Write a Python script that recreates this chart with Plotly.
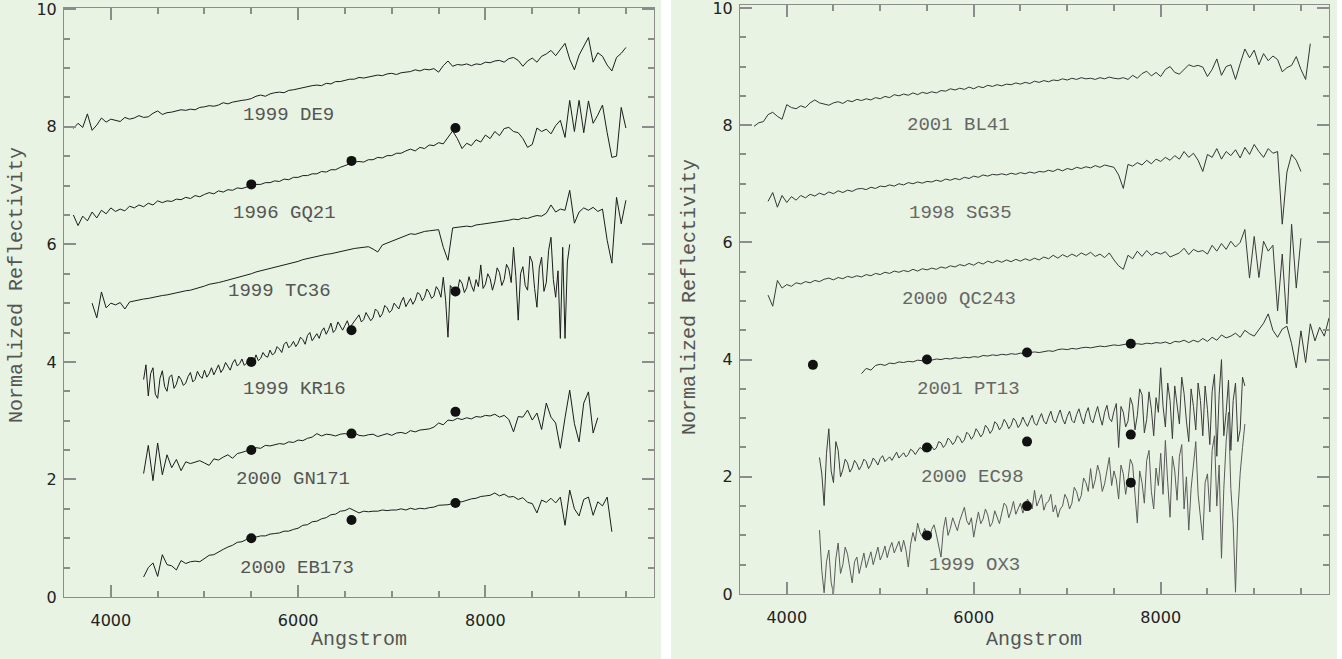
import numpy as np
import plotly.graph_objects as go

# Each spectrum is sampled on an even wavelength grid from *_START to *_END (Angstrom).

# ---------------- left panel spectra ----------------
DE9_START, DE9_END = 3600, 9500
DE9 = [7.97, 8.06, 7.99, 8.22, 7.94, 8.03, 8.15, 8.08, 8.13, 8.11, 8.09, 8.16, 8.13, 8.15, 8.19, 8.16,
       8.17, 8.23, 8.27, 8.21, 8.24, 8.25, 8.27, 8.29, 8.28, 8.30, 8.29, 8.33, 8.34, 8.36, 8.35, 8.37,
       8.41, 8.39, 8.42, 8.44, 8.45, 8.46, 8.48, 8.52, 8.54, 8.52, 8.56, 8.58, 8.59, 8.58, 8.62, 8.63,
       8.65, 8.66, 8.69, 8.70, 8.71, 8.70, 8.74, 8.73, 8.77, 8.77, 8.79, 8.81, 8.81, 8.84, 8.83, 8.85,
       8.86, 8.88, 8.87, 8.90, 8.91, 8.89, 8.92, 8.93, 8.94, 8.97, 8.95, 8.98, 8.97, 8.99, 8.93, 9.04,
       9.12, 9.03, 9.06, 9.05, 9.07, 9.04, 9.07, 9.06, 9.10, 9.09, 9.12, 9.13, 9.10, 9.16, 9.18, 9.13,
       9.03, 9.12, 9.17, 9.10, 9.20, 9.24, 9.30, 9.21, 9.32, 9.42, 9.15, 8.97, 9.22, 9.38, 9.52, 9.10,
       9.26, 9.20, 9.05, 8.95, 9.18, 9.25, 9.35]

GQ21_START, GQ21_END = 3600, 9500
GQ21 = [6.50, 6.32, 6.48, 6.40, 6.55, 6.45, 6.58, 6.52, 6.62, 6.56, 6.60, 6.57, 6.65, 6.62, 6.67, 6.64,
        6.70, 6.67, 6.74, 6.71, 6.74, 6.73, 6.77, 6.76, 6.80, 6.78, 6.83, 6.81, 6.85, 6.88, 6.86, 6.91,
        6.89, 6.93, 6.92, 6.96, 6.95, 6.98, 7.00, 7.02, 7.02, 7.05, 7.05, 7.08, 7.07, 7.11, 7.10, 7.14,
        7.14, 7.17, 7.17, 7.20, 7.20, 7.24, 7.23, 7.27, 7.27, 7.31, 7.34, 7.37, 7.40, 7.41, 7.40, 7.44,
        7.44, 7.48, 7.47, 7.51, 7.51, 7.55, 7.55, 7.59, 7.62, 7.59, 7.65, 7.63, 7.69, 7.68, 7.73, 7.71,
        7.82, 7.93, 7.80, 7.63, 7.72, 7.68, 7.78, 7.74, 7.86, 7.80, 7.92, 7.85, 7.97, 7.99, 7.92, 7.90,
        7.80, 7.65, 7.70, 7.98, 7.92, 7.96, 7.88, 8.02, 8.11, 7.82, 8.45, 7.92, 8.45, 7.90, 8.44, 8.06,
        8.20, 8.37, 7.90, 7.48, 7.50, 8.33, 7.98]

TC36_START, TC36_END = 3800, 9500
TC36 = [5.00, 4.75, 5.19, 4.92, 5.00, 4.97, 5.01, 4.90, 5.02, 5.04, 5.05, 5.07, 5.08, 5.10, 5.12, 5.13,
        5.14, 5.16, 5.18, 5.19, 5.21, 5.22, 5.24, 5.26, 5.29, 5.32, 5.33, 5.35, 5.37, 5.39, 5.41, 5.43,
        5.45, 5.47, 5.50, 5.53, 5.55, 5.56, 5.59, 5.61, 5.63, 5.65, 5.67, 5.69, 5.71, 5.74, 5.76, 5.77,
        5.79, 5.81, 5.83, 5.84, 5.86, 5.88, 5.90, 5.91, 5.93, 5.94, 5.95, 5.96, 5.92, 5.87, 5.99, 6.02,
        6.05, 6.08, 6.12, 6.15, 6.18, 6.17, 6.20, 6.22, 6.23, 6.24, 6.25, 5.95, 5.73, 6.28, 6.29, 6.30,
        6.31, 6.30, 6.33, 6.34, 6.35, 6.36, 6.37, 6.38, 6.39, 6.41, 6.43, 6.42, 6.45, 6.44, 6.47, 6.49,
        6.48, 6.53, 6.67, 6.55, 6.60, 6.58, 6.92, 6.36, 6.55, 6.62, 6.58, 6.63, 6.56, 6.60, 6.07, 5.68,
        6.80, 6.35, 6.75]

KR16_START, KR16_END = 4350, 8900
KR16 = [3.70, 3.95, 3.42, 3.80, 3.90, 3.45, 3.38, 3.72, 3.85, 3.58, 3.50, 3.74, 3.78, 3.55, 3.62, 3.76,
        3.70, 3.60, 3.64, 3.75, 3.82, 3.66, 3.70, 3.84, 3.76, 3.72, 3.86, 3.74, 3.80, 3.90, 3.78, 3.86,
        3.95, 3.82, 3.88, 3.99, 3.92, 3.86, 3.98, 4.04, 3.93, 3.97, 4.05, 3.94, 3.98, 4.08, 4.02, 4.00,
        4.12, 4.02, 4.06, 4.16, 4.10, 4.08, 4.20, 4.12, 4.15, 4.26, 4.22, 4.16, 4.30, 4.34, 4.24, 4.28,
        4.35, 4.26, 4.32, 4.42, 4.38, 4.30, 4.45, 4.50, 4.36, 4.42, 4.48, 4.40, 4.52, 4.58, 4.47, 4.55,
        4.66, 4.50, 4.55, 4.68, 4.60, 4.54, 4.62, 4.70, 4.58, 4.64, 4.70, 4.76, 4.80, 4.68, 4.72, 4.84,
        4.78, 4.70, 4.75, 4.90, 4.86, 4.76, 4.82, 4.96, 4.92, 4.84, 4.88, 5.00, 4.95, 4.90, 5.02, 5.10,
        4.94, 5.00, 5.08, 4.98, 5.05, 5.18, 5.15, 5.04, 5.10, 5.24, 5.18, 5.08, 5.12, 5.28, 5.22, 5.10,
        5.44, 5.05, 4.42, 5.30, 5.25, 5.12, 5.20, 5.40, 5.34, 5.18, 5.26, 5.45, 5.30, 5.20, 5.40, 5.28,
        5.65, 5.25, 5.32, 5.50, 5.42, 5.22, 5.36, 5.60, 5.52, 5.30, 5.40, 5.66, 5.58, 5.35, 5.95, 5.45,
        4.71, 5.50, 5.62, 5.30, 5.22, 5.80, 5.70, 5.25, 4.93, 5.60, 5.78, 5.20, 5.35, 5.90, 6.12, 5.40,
        5.10, 5.55, 4.40, 5.95, 4.40, 5.70, 6.00]

GN171_START, GN171_END = 4350, 9200
GN171 = [2.10, 2.58, 1.98, 2.62, 2.08, 2.42, 2.20, 2.34, 2.15, 2.30, 2.27, 2.29, 2.32, 2.28, 2.24, 2.35,
         2.33, 2.38, 2.42, 2.36, 2.44, 2.46, 2.49, 2.52, 2.54, 2.53, 2.58, 2.57, 2.59, 2.61, 2.60, 2.64,
         2.63, 2.67, 2.66, 2.70, 2.72, 2.78, 2.74, 2.77, 2.76, 2.74, 2.77, 2.78, 2.76, 2.79, 2.75, 2.74,
         2.76, 2.77, 2.73, 2.76, 2.78, 2.75, 2.79, 2.80, 2.78, 2.83, 2.81, 2.84, 2.85, 2.86, 2.89, 2.96,
         2.93, 3.01, 3.00, 3.04, 3.02, 3.05, 3.03, 3.07, 3.06, 3.09, 3.08, 3.11, 3.06, 3.09, 3.02, 2.81,
         3.07, 3.06, 3.18, 3.01, 3.13, 2.85, 3.30, 3.06, 2.96, 2.53, 3.05, 3.52, 2.95, 2.64, 3.30, 3.49,
         2.79, 3.05]

EB173_START, EB173_END = 4350, 9350
EB173 = [0.34, 0.50, 0.58, 0.35, 0.72, 0.55, 0.53, 0.46, 0.62, 0.57, 0.60, 0.61, 0.60, 0.66, 0.71, 0.72,
         0.77, 0.81, 0.85, 0.88, 0.93, 0.94, 0.98, 1.00, 1.01, 1.04, 1.04, 1.07, 1.08, 1.09, 1.12, 1.12,
         1.15, 1.17, 1.22, 1.23, 1.28, 1.29, 1.33, 1.35, 1.40, 1.41, 1.46, 1.47, 1.51, 1.47, 1.43, 1.46,
         1.45, 1.46, 1.46, 1.48, 1.47, 1.48, 1.48, 1.50, 1.48, 1.51, 1.49, 1.51, 1.50, 1.52, 1.53, 1.56,
         1.56, 1.57, 1.59, 1.62, 1.62, 1.65, 1.67, 1.68, 1.71, 1.72, 1.73, 1.77, 1.72, 1.75, 1.70, 1.71,
         1.66, 1.69, 1.61, 1.59, 1.43, 1.65, 1.61, 1.68, 1.60, 1.70, 1.22, 1.82, 1.50, 1.38, 1.66, 1.70,
         1.39, 1.62, 1.55, 1.70, 1.11]

# ---------------- right panel spectra ----------------
BL41_START, BL41_END = 3650, 9600
BL41 = [7.98, 8.04, 8.06, 8.18, 8.22, 8.15, 8.10, 8.35, 8.30, 8.28, 8.33, 8.30, 8.38, 8.43, 8.38, 8.36,
        8.34, 8.38, 8.40, 8.37, 8.42, 8.40, 8.44, 8.42, 8.45, 8.43, 8.47, 8.45, 8.49, 8.47, 8.52, 8.50,
        8.53, 8.51, 8.55, 8.52, 8.56, 8.54, 8.57, 8.55, 8.59, 8.58, 8.62, 8.60, 8.63, 8.61, 8.65, 8.62,
        8.66, 8.64, 8.68, 8.66, 8.69, 8.67, 8.70, 8.69, 8.72, 8.70, 8.73, 8.71, 8.75, 8.73, 8.76, 8.74,
        8.77, 8.76, 8.79, 8.77, 8.80, 8.78, 8.81, 8.79, 8.80, 8.78, 8.81, 8.79, 8.82, 8.80, 8.79, 8.81,
        8.78, 8.85, 8.80, 8.88, 8.92, 8.84, 8.90, 8.83, 8.95, 9.00, 8.90, 8.87, 8.95, 9.03, 9.00, 9.02,
        8.99, 8.83, 8.95, 9.13, 8.85, 9.00, 9.03, 8.78, 9.05, 9.30, 9.15, 9.28, 9.03, 9.22, 9.10, 9.18,
        9.12, 8.91, 8.98, 9.02, 9.17, 8.95, 8.78, 9.39]

SG35_START, SG35_END = 3800, 9500
SG35 = [6.70, 6.85, 6.60, 6.80, 6.68, 6.78, 6.72, 6.80, 6.76, 6.82, 6.79, 6.84, 6.81, 6.86, 6.83, 6.88,
        6.85, 6.89, 6.87, 6.91, 6.92, 6.90, 6.94, 6.92, 6.96, 6.95, 6.98, 6.96, 7.00, 6.98, 7.02, 7.00,
        7.03, 7.01, 7.04, 7.03, 7.06, 7.04, 7.08, 7.06, 7.09, 7.07, 7.11, 7.09, 7.13, 7.11, 7.15, 7.13,
        7.16, 7.15, 7.17, 7.15, 7.18, 7.16, 7.19, 7.17, 7.20, 7.18, 7.21, 7.20, 7.23, 7.21, 7.25, 7.22,
        7.26, 7.24, 7.28, 7.26, 7.29, 7.27, 7.31, 7.28, 7.32, 7.30, 7.28, 7.15, 6.92, 7.33, 7.30, 7.36,
        7.32, 7.40, 7.34, 7.42, 7.38, 7.45, 7.40, 7.48, 7.42, 7.55, 7.45, 7.52, 7.40, 7.21, 7.50, 7.45,
        7.60, 7.42, 7.55, 7.48, 7.58, 7.44, 7.62, 7.50, 7.67, 7.55, 7.45, 7.60, 7.52, 7.55, 6.31, 7.20,
        7.50, 7.40, 7.21]

QC243_START, QC243_END = 3800, 9500
QC243 = [5.10, 4.91, 5.35, 5.22, 5.28, 5.25, 5.31, 5.29, 5.33, 5.31, 5.35, 5.33, 5.37, 5.39, 5.36, 5.40,
         5.38, 5.42, 5.40, 5.43, 5.41, 5.45, 5.43, 5.47, 5.45, 5.49, 5.47, 5.51, 5.49, 5.52, 5.50, 5.54,
         5.51, 5.55, 5.53, 5.56, 5.54, 5.58, 5.56, 5.60, 5.58, 5.62, 5.60, 5.64, 5.61, 5.66, 5.63, 5.68,
         5.65, 5.69, 5.66, 5.70, 5.67, 5.71, 5.68, 5.72, 5.69, 5.73, 5.70, 5.75, 5.72, 5.78, 5.73, 5.79,
         5.75, 5.80, 5.76, 5.82, 5.78, 5.83, 5.76, 5.80, 5.74, 5.82, 5.70, 5.60, 5.54, 5.78, 5.72, 5.85,
         5.76, 5.86, 5.78, 5.83, 5.80, 5.84, 5.75, 5.79, 5.82, 5.90, 5.79, 5.88, 5.84, 5.86, 5.80, 5.95,
         5.85, 5.98, 5.88, 6.02, 5.92, 6.00, 6.22, 5.39, 6.10, 5.40, 6.02, 5.85, 5.95, 4.83, 5.80, 4.61,
         6.31, 5.22, 6.07]

PT13_START, PT13_END = 4800, 9800
PT13 = [3.76, 3.85, 3.82, 3.90, 3.92, 3.90, 3.94, 3.93, 3.96, 3.95, 3.97, 3.96, 3.99, 3.98, 4.00, 3.99,
        4.01, 4.00, 4.02, 4.01, 4.03, 4.02, 4.04, 4.03, 4.05, 4.04, 4.07, 4.06, 4.08, 4.07, 4.09, 4.08,
        4.10, 4.09, 4.11, 4.10, 4.12, 4.13, 4.12, 4.14, 4.15, 4.14, 4.17, 4.18, 4.17, 4.19, 4.18, 4.20,
        4.21, 4.20, 4.22, 4.23, 4.22, 4.24, 4.25, 4.24, 4.26, 4.27, 4.26, 4.27, 4.26, 4.28, 4.27, 4.29,
        4.28, 4.30, 4.27, 4.31, 4.30, 4.33, 4.29, 4.33, 4.30, 4.36, 4.31, 4.38, 4.33, 4.42, 4.37, 4.40,
        4.45, 4.38, 4.50, 4.44, 4.40, 4.52, 4.62, 4.78, 4.50, 4.38, 4.52, 4.57, 4.27, 3.86, 4.49, 3.95,
        4.61, 4.32, 4.55, 4.40, 4.71]

EC98_START, EC98_END = 4350, 8900
EC98 = [2.33, 2.05, 1.51, 2.40, 2.82, 2.10, 1.90, 2.60, 2.45, 2.00, 2.12, 2.30, 2.24, 2.08, 2.15, 2.28,
        2.22, 2.12, 2.19, 2.30, 2.26, 2.14, 2.21, 2.32, 2.27, 2.20, 2.31, 2.36, 2.26, 2.30, 2.34, 2.28,
        2.36, 2.42, 2.32, 2.36, 2.41, 2.34, 2.38, 2.47, 2.44, 2.38, 2.43, 2.50, 2.47, 2.42, 2.50, 2.56,
        2.52, 2.46, 2.49, 2.60, 2.58, 2.50, 2.55, 2.66, 2.62, 2.55, 2.60, 2.70, 2.66, 2.58, 2.63, 2.76,
        2.72, 2.64, 2.70, 2.82, 2.76, 2.68, 2.74, 2.88, 2.83, 2.74, 2.80, 2.94, 2.90, 2.80, 2.86, 2.98,
        2.92, 2.82, 2.88, 3.00, 2.95, 2.84, 2.90, 3.02, 2.93, 2.86, 2.96, 3.05, 2.91, 2.88, 2.99, 3.08,
        2.95, 2.90, 3.02, 3.12, 2.97, 2.92, 3.04, 3.14, 2.99, 2.90, 3.03, 3.12, 2.96, 2.92, 3.06, 3.16,
        3.01, 2.90, 3.08, 3.18, 2.98, 2.92, 3.07, 3.20, 3.02, 2.88, 3.10, 3.22, 3.00, 2.94, 3.12, 3.25,
        2.50, 3.20, 3.10, 2.85, 2.95, 3.35, 3.22, 2.80, 3.05, 3.50, 3.40, 2.75, 2.98, 3.45, 3.15, 2.70,
        3.35, 3.10, 3.86, 3.20, 2.85, 3.60, 3.30, 2.65, 3.55, 3.25, 2.90, 3.70, 3.42, 2.95, 2.60, 3.50,
        3.20, 2.80, 3.60, 3.30, 2.70, 3.55, 3.15, 2.55, 3.45, 3.75, 2.35, 3.40, 4.00, 2.70, 3.10, 3.65,
        2.45, 3.30, 3.60, 2.60, 2.80, 3.70, 3.55]

OX3_START, OX3_END = 4350, 8900
OX3 = [1.09, 0.40, 0.02, 0.55, 0.75, 0.20, 0.00, 0.60, 0.87, 0.35, 0.50, 0.80, 0.68, 0.40, 0.19, 0.55,
       0.63, 0.35, 0.52, 0.70, 0.45, 0.60, 0.72, 0.50, 0.66, 0.80, 0.58, 0.68, 0.82, 0.62, 0.78, 0.88,
       0.70, 0.80, 0.90, 0.72, 0.92, 0.75, 0.46, 0.85, 1.05, 0.90, 1.21, 1.05, 0.98, 1.12, 1.00, 0.92,
       1.10, 1.18, 1.02, 0.85, 0.63, 1.10, 1.31, 1.00, 1.12, 1.30, 1.20, 1.08, 1.25, 1.38, 1.48, 1.25,
       1.18, 1.30, 0.97, 1.20, 1.40, 1.20, 1.28, 1.45, 1.35, 1.15, 1.22, 1.42, 1.30, 1.20, 1.38, 1.55,
       1.50, 1.30, 1.42, 1.58, 1.36, 1.45, 1.55, 1.38, 1.48, 1.62, 1.52, 1.45, 1.77, 1.50, 1.60, 1.70,
       1.43, 1.55, 1.58, 1.70, 1.40, 1.52, 1.31, 1.45, 1.50, 1.70, 1.62, 1.45, 1.55, 1.82, 1.75, 1.58,
       1.68, 1.98, 1.90, 1.75, 2.14, 1.80, 1.95, 2.20, 2.05, 1.75, 1.88, 2.10, 2.33, 1.85, 2.10, 1.95,
       1.62, 2.20, 2.05, 1.70, 1.95, 2.30, 2.20, 1.70, 1.21, 2.10, 1.90, 1.55, 2.28, 2.45, 1.75, 1.45,
       2.15, 1.85, 2.40, 1.70, 2.62, 1.90, 1.31, 2.35, 2.10, 1.60, 2.35, 2.55, 1.45, 2.00, 1.09, 1.80,
       2.20, 2.60, 1.70, 1.25, 0.92, 1.90, 2.05, 1.40, 2.45, 2.70, 1.50, 2.20, 0.61, 1.80, 2.60, 3.10,
       1.80, 1.20, 0.03, 1.40, 2.06, 2.50, 2.90]

# ---------------- broadband photometry (filled circles) ----------------
PHOT_WL = [5500, 6570, 7680]
GQ21_PHOT = [7.02, 7.42, 7.98]
KR16_PHOT = [4.00, 4.54, 5.20]
GN171_PHOT = [2.50, 2.78, 3.15]
EB173_PHOT = [1.00, 1.31, 1.60]
PT13_PHOT_WL = [4280, 5500, 6570, 7680]
PT13_PHOT = [3.91, 4.00, 4.12, 4.27]
EC98_PHOT = [2.50, 2.60, 2.72]
OX3_PHOT = [1.00, 1.50, 1.90]

# ---------------- object names and where they are written ----------------
LEFT_NAMES = ["1999 DE9", "1996 GQ21", "1999 TC36", "1999 KR16", "2000 GN171", "2000 EB173"]
LEFT_NAME_X = [5900, 5850, 5800, 5960, 5940, 5990]
LEFT_NAME_Y = [8.20, 6.53, 5.20, 3.54, 2.01, 0.49]
RIGHT_NAMES = ["2001 BL41", "1998 SG35", "2000 QC243", "2001 PT13", "2000 EC98", "1999 OX3"]
RIGHT_NAME_X = [5840, 5860, 5840, 5940, 5990, 6010]
RIGHT_NAME_Y = [8.01, 6.50, 5.03, 3.50, 1.99, 0.49]

X_RANGE = [3500, 9800]

W, H = 1342, 659
BG = "#e8f3e3"
FRAME = "#8c8c8c"
MONO = "Liberation Mono"


def px(x):
    return x / W


def py(y):
    return 1 - y / H


def wavelengths(start, end, flux):
    return np.linspace(start, end, len(flux))


fig = go.Figure()

left_spectra = [(DE9_START, DE9_END, DE9), (GQ21_START, GQ21_END, GQ21),
                (TC36_START, TC36_END, TC36), (KR16_START, KR16_END, KR16),
                (GN171_START, GN171_END, GN171), (EB173_START, EB173_END, EB173)]
right_spectra = [(BL41_START, BL41_END, BL41, "#333333"), (SG35_START, SG35_END, SG35, "#333333"),
                 (QC243_START, QC243_END, QC243, "#3a3a3a"), (PT13_START, PT13_END, PT13, "#333333"),
                 (EC98_START, EC98_END, EC98, "#3c3c3c"), (OX3_START, OX3_END, OX3, "#5a5a5a")]

for start, end, flux in left_spectra:
    fig.add_trace(go.Scatter(x=wavelengths(start, end, flux), y=flux, mode="lines",
                             line=dict(color="#1c1c1c", width=1), xaxis="x", yaxis="y",
                             hoverinfo="skip"))
for start, end, flux, col in right_spectra:
    fig.add_trace(go.Scatter(x=wavelengths(start, end, flux), y=flux, mode="lines",
                             line=dict(color=col, width=1), xaxis="x2", yaxis="y2",
                             hoverinfo="skip"))

dot = dict(color="#111111", size=10)
for vals in (GQ21_PHOT, KR16_PHOT, GN171_PHOT, EB173_PHOT):
    fig.add_trace(go.Scatter(x=PHOT_WL, y=vals, mode="markers", marker=dot,
                             xaxis="x", yaxis="y"))
fig.add_trace(go.Scatter(x=PT13_PHOT_WL, y=PT13_PHOT, mode="markers", marker=dot,
                         xaxis="x2", yaxis="y2"))
for vals in (EC98_PHOT, OX3_PHOT):
    fig.add_trace(go.Scatter(x=PHOT_WL, y=vals, mode="markers", marker=dot,
                             xaxis="x2", yaxis="y2"))

annotations = []
for name, x, y in zip(LEFT_NAMES, LEFT_NAME_X, LEFT_NAME_Y):
    annotations.append(dict(text=name, x=x, y=y, xref="x", yref="y", showarrow=False,
                            xanchor="center", yanchor="middle",
                            font=dict(family=MONO, size=19, color="#555555")))
for name, x, y in zip(RIGHT_NAMES, RIGHT_NAME_X, RIGHT_NAME_Y):
    annotations.append(dict(text=name, x=x, y=y, xref="x2", yref="y2", showarrow=False,
                            xanchor="center", yanchor="middle",
                            font=dict(family=MONO, size=19, color="#666666")))

title_font = dict(family=MONO, size=20, color="#555555")
for xc in (359, 1034):
    annotations.append(dict(text="Angstrom", x=px(xc), y=py(639), xref="paper", yref="paper",
                            showarrow=False, xanchor="center", yanchor="middle",
                            font=title_font))
for xc, yc in ((16, 285), (690, 297)):
    annotations.append(dict(text="Normalized Reflectivity", x=px(xc), y=py(yc),
                            xref="paper", yref="paper", showarrow=False, textangle=-90,
                            xanchor="center", yanchor="middle", font=title_font))

tick_font = dict(family="DejaVu Sans", size=16, color="#222222")


def xaxis(domain, anchor):
    return dict(domain=domain, anchor=anchor, range=X_RANGE,
                tickmode="linear", tick0=0, dtick=2000, tickformat="d",
                ticks="inside", ticklen=12, tickwidth=1.5, tickcolor=FRAME, showline=True,
                linecolor=FRAME, linewidth=1, mirror="allticks", showgrid=False,
                zeroline=False, tickfont=tick_font, automargin=False,
                ticklabelstandoff=9, ticklabeloverflow="allow",
                minor=dict(dtick=500, tick0=0, ticks="inside", ticklen=6, tickwidth=1.5,
                           tickcolor=FRAME, showgrid=False))


def yaxis(domain, anchor, yrange):
    return dict(domain=domain, anchor=anchor, range=yrange,
                tickmode="linear", tick0=0, dtick=2,
                ticks="inside", ticklen=12, tickwidth=1.5, tickcolor=FRAME, showline=True,
                linecolor=FRAME, linewidth=1, mirror="allticks", showgrid=False,
                zeroline=False, tickfont=tick_font, automargin=False,
                ticklabelstandoff=3, ticklabeloverflow="allow",
                minor=dict(dtick=0.5, tick0=0, ticks="inside", ticklen=6, tickwidth=1.5,
                           tickcolor=FRAME, showgrid=False))


shapes = [
    dict(type="rect", xref="paper", yref="paper", x0=0, x1=px(661), y0=0, y1=1,
         fillcolor=BG, line=dict(width=0), layer="below"),
    dict(type="rect", xref="paper", yref="paper", x0=px(671), x1=px(1337), y0=0, y1=1,
         fillcolor=BG, line=dict(width=0), layer="below"),
]

fig.update_layout(
    template="none",
    width=W, height=H, margin=dict(l=0, r=0, t=0, b=0, pad=0), autosize=False,
    paper_bgcolor="white", plot_bgcolor=BG, showlegend=False,
    xaxis=xaxis([px(64), px(654)], "y"),
    yaxis=yaxis([py(597), py(7.5)], "x", [0, 10.03]),
    xaxis2=xaxis([px(740), px(1329)], "y2"),
    yaxis2=yaxis([py(594), py(5)], "x2", [0, 10.05]),
    annotations=annotations, shapes=shapes,
)

fig.write_html("out.html")
